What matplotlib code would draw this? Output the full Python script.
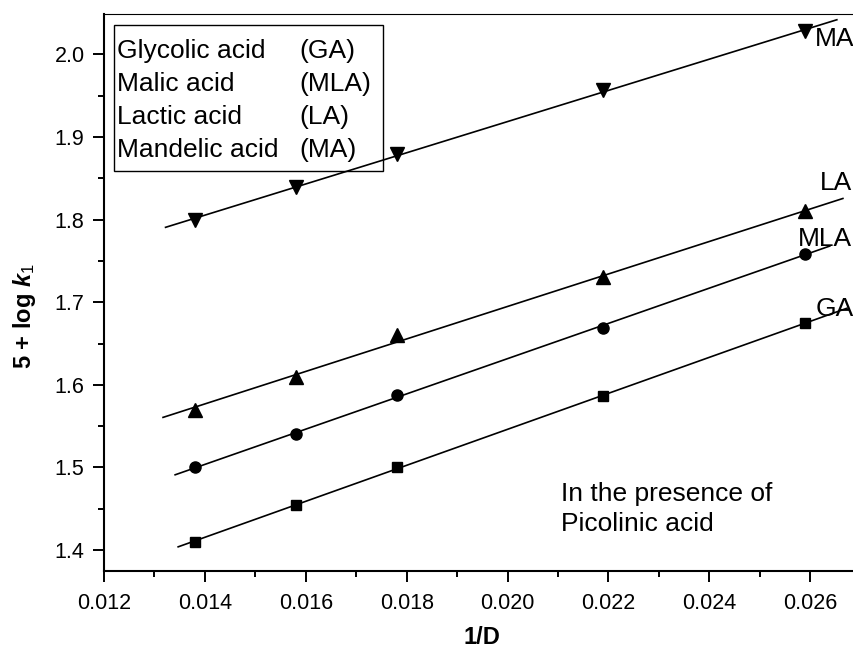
import matplotlib
matplotlib.use("Agg")
import matplotlib.pyplot as plt
import numpy as np
from matplotlib.patches import Rectangle
from matplotlib.ticker import FormatStrFormatter, MultipleLocator

plt.rcParams["font.family"] = ["Liberation Sans", "DejaVu Sans"]
plt.rcParams["mathtext.fontset"] = "custom"
plt.rcParams["mathtext.rm"] = "Liberation Sans"
plt.rcParams["mathtext.it"] = "Liberation Sans:italic"
plt.rcParams["mathtext.bf"] = "Liberation Sans:bold"
plt.rcParams["mathtext.bfit"] = "Liberation Sans:bold:italic"

# 1/D values
inv_d = [0.0138, 0.0158, 0.0178, 0.0219, 0.0259]

# 5 + log k1 for each acid
series = ["GA", "MLA", "LA", "MA"]
values = {
    "GA": [1.410, 1.455, 1.500, 1.586, 1.675],
    "MLA": [1.500, 1.540, 1.588, 1.669, 1.759],
    "LA": [1.570, 1.610, 1.660, 1.730, 1.810],
    "MA": [1.800, 1.839, 1.879, 1.957, 2.028],
}
markers = {"GA": "s", "MLA": "o", "LA": "^", "MA": "v"}
msize = {"GA": 7.5, "MLA": 8, "LA": 9.5, "MA": 9.5}

# extent of the fitted lines
fit_from = {"GA": 0.01347, "MLA": 0.01341, "LA": 0.01317, "MA": 0.01322}
fit_to = {"GA": 0.02673, "MLA": 0.02639, "LA": 0.02665, "MA": 0.02653}

# end-of-line labels (x, y)
end_labels = {
    "GA": (0.02611, 1.692),
    "MLA": (0.02575, 1.777),
    "LA": (0.02619, 1.844),
    "MA": (0.02609, 2.019),
}

legend_names = ["Glycolic acid", "Malic acid", "Lactic acid", "Mandelic acid"]
legend_abbr = ["(GA)", "(MLA)", "(LA)", "(MA)"]

fig = plt.figure(figsize=(8.54, 6.51), dpi=100)
ax = fig.add_axes([0.1218, 0.1229, 0.8782, 0.8556])

for name in series:
    y = values[name]
    ax.plot(inv_d, y, linestyle="none", marker=markers[name], ms=msize[name],
            color="black", mec="black", clip_on=False, zorder=3)
    slope, icpt = np.polyfit(inv_d, y, 1)
    xx = np.array([fit_from[name], fit_to[name]])
    ax.plot(xx, slope * xx + icpt, color="black", lw=1.2, clip_on=False, zorder=2)
    lx, ly = end_labels[name]
    ax.text(lx, ly, name, fontsize=19, ha="left", va="center", clip_on=False)

ax.text(0.02106, 1.450, "In the presence of\nPicolinic acid", fontsize=19,
        ha="left", va="center", linespacing=1.3)

# legend-like text box
ax.add_patch(Rectangle((0.0133, 0.718), 0.3587, 0.262, transform=ax.transAxes,
                       fill=False, lw=1.0, ec="black", zorder=4))
rows_y = [0.9205, 0.8623, 0.8025, 0.7427]
for nm, ab, ry in zip(legend_names, legend_abbr, rows_y):
    ax.text(0.0173, ry, nm, transform=ax.transAxes, fontsize=19, va="baseline")
    ax.text(0.26, ry, ab, transform=ax.transAxes, fontsize=19, va="baseline")

ax.set_xlim(0.012, 0.02687)
ax.set_ylim(1.3746, 2.049)

ax.xaxis.set_major_locator(MultipleLocator(0.002))
ax.xaxis.set_minor_locator(MultipleLocator(0.001))
ax.xaxis.set_major_formatter(FormatStrFormatter("%.3f"))
ax.yaxis.set_major_locator(MultipleLocator(0.1))
ax.yaxis.set_minor_locator(MultipleLocator(0.05))
ax.yaxis.set_major_formatter(FormatStrFormatter("%.1f"))

ax.tick_params(which="major", direction="out", length=8, width=1.4, labelsize=15.5)
ax.tick_params(which="minor", direction="out", length=4, width=1.4)
ax.tick_params(axis="x", pad=8)
ax.tick_params(axis="y", pad=6)

ax.spines["right"].set_visible(False)
ax.spines["left"].set_linewidth(1.5)
ax.spines["bottom"].set_linewidth(1.5)
ax.spines["top"].set_linewidth(0.8)

ax.set_xlabel("1/D", fontsize=17, fontweight="bold")
ax.set_ylabel(r"5 + log $\mathbfit{k}_{\mathit{1}}$", fontsize=17, fontweight="bold")
ax.xaxis.set_label_coords(0.504, -0.098)
ax.yaxis.set_label_coords(-0.088, 0.458)

fig.savefig("out.png", dpi=100)
